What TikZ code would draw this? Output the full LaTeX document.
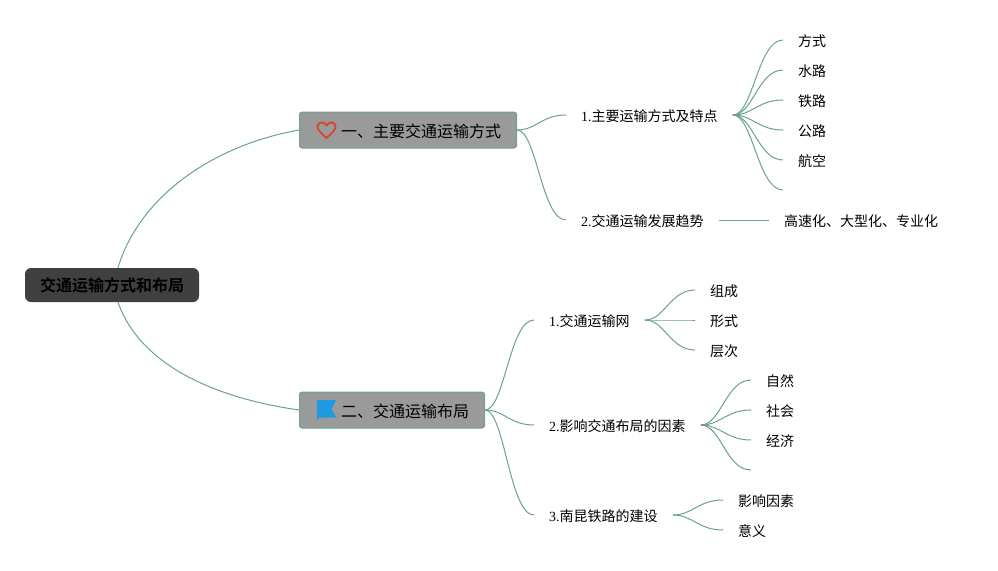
\documentclass[tikz,border=0pt]{standalone}
\usepackage{fontspec}
\usetikzlibrary{calc}
\setmainfont{Liberation Serif}
\newfontfamily\cjk{Noto Sans CJK SC}[BoldFont={Noto Sans CJK SC Bold}]
\definecolor{linkc}{HTML}{6BA292}
\definecolor{boxg}{HTML}{9A9A9A}
\definecolor{rootg}{HTML}{404040}
\definecolor{heartc}{HTML}{D9402E}
\definecolor{flagc}{HTML}{1E9BE0}
\tikzset{
  link/.style={draw=linkc,line width=1pt},
  stub/.style={draw=linkc,line width=2pt},
  rootbox/.style={fill=rootg,rounded corners=6pt,minimum width=174pt,minimum height=34pt,inner sep=0pt,font=\cjk\bfseries\fontsize{16pt}{16pt}\selectfont,text=black},
  topicbox/.style={fill=boxg,draw=linkc,line width=1pt,rounded corners=2.5pt,minimum height=36pt,inner sep=0pt,anchor=west},
  topictext/.style={font=\cjk\fontsize{16pt}{16pt}\selectfont,text=black,anchor=west,inner sep=0pt},
  item/.style={anchor=west,inner xsep=15pt,inner ysep=0pt,font=\fontsize{14pt}{14pt}\selectfont,text=black},
}
\newcommand{\zh}[1]{{\cjk #1}}
\newcommand{\tx}[1]{\raisebox{-6.8pt}[0pt][0pt]{#1}}
\newcommand{\scurve}[2]{%
  \draw[link] let \p1=(#1), \p2=(#2), \n1={\x2-\x1} in
    (#1) .. controls ($(\p1)+(0.4*\n1,0)$) and ($(\p2)+(-0.5*\n1,0)$) .. (#2);}
\begin{document}
\begin{tikzpicture}[x=1pt,y=-1pt]
\useasboundingbox (0,0) rectangle (998,570);
\fill[white] (0,0) rectangle (998,570);
% nodes
\node[topicbox,minimum width=217pt] (A) at (299,130) {};
\node[topicbox,minimum width=185pt] (B) at (299,410) {};
\node[topictext] (Atext) at (341,131) {一、主要交通运输方式};
\node[topictext] (Btext) at (341,411) {二、交通运输布局};
\node[item] (a1) at (566,115) {\tx{1.\zh{主要运输方式及特点}}};
\node[item] (a2) at (566,220) {\tx{2.\zh{交通运输发展趋势}}};
\node[item] (b1) at (534,320) {\tx{1.\zh{交通运输网}}};
\node[item] (b2) at (534,425) {\tx{2.\zh{影响交通布局的因素}}};
\node[item] (b3) at (534,515) {\tx{3.\zh{南昆铁路的建设}}};
\foreach \k/\t/\y in {l1/方式/40,l2/水路/70,l3/铁路/100,l4/公路/130,l5/航空/160}
  \node[item] (\k) at (783,\y) {\tx{\zh{\t}}};
\coordinate (l6) at (783,190);
\node[item] (t) at (769,220) {\tx{\zh{高速化、大型化、专业化}}};
\foreach \k/\t/\y in {m1/组成/290,m2/形式/320,m3/层次/350}
  \node[item] (\k) at (695,\y) {\tx{\zh{\t}}};
\foreach \k/\t/\y in {n1/自然/380,n2/社会/410,n3/经济/440}
  \node[item] (\k) at (751,\y) {\tx{\zh{\t}}};
\coordinate (n4) at (751,470);
\foreach \k/\t/\y in {p1/影响因素/500,p2/意义/530}
  \node[item] (\k) at (723,\y) {\tx{\zh{\t}}};
\node[rootbox] (R) at (112,285) {交通运输方式和布局};
% connectors
\coordinate (Rt) at ([xshift=6pt]R.north);
\coordinate (Rb) at ([xshift=6pt]R.south);
\draw[link] (Rt) .. controls +(22,-73) and (215,145) .. (A.west);
\draw[link] (Rb) .. controls +(22,63) and (215,398) .. (B.west);
\scurve{A.east}{a1.west}
\scurve{A.east}{a2.west}
\foreach \k in {l1,l2,l3,l4,l5,l6} {\scurve{a1.east}{\k.west}}
\draw[link] (a2.east) -- (t.west);
\scurve{B.east}{b1.west}
\scurve{B.east}{b2.west}
\scurve{B.east}{b3.west}
\foreach \k in {m1,m2,m3} {\scurve{b1.east}{\k.west}}
\foreach \k in {n1,n2,n3,n4} {\scurve{b2.east}{\k.west}}
\foreach \k in {p1,p2} {\scurve{b3.east}{\k.west}}
\draw[stub] (a1.east) -- ([xshift=7pt]a1.east);
\draw[stub] (b2.east) -- ([xshift=7pt]b2.east);
% icons
\draw[heartc,line width=1.7pt,line join=round] (326.5,138) .. controls (321,133) and (317.5,130) .. (317.5,126.5)
  .. controls (317.5,121.5) and (324.5,121) .. (326.5,125.5)
  .. controls (328.5,121) and (335.5,121.5) .. (335.5,126.5)
  .. controls (335.5,130) and (332,133) .. (326.5,138) -- cycle;
\fill[flagc] (317,400) -- (336,400) -- (331.5,409) -- (336,417.5) -- (318,417.5) -- (318,420) -- (317,420) -- cycle;
\end{tikzpicture}
\end{document}
